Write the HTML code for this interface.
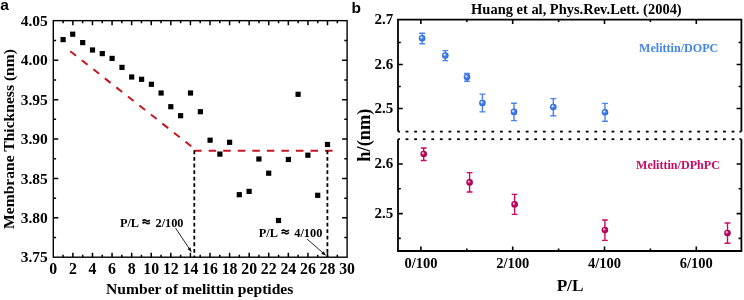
<!DOCTYPE html><html><head><meta charset="utf-8"><style>html,body{margin:0;padding:0;background:#fff;}svg{display:block;will-change:transform}text{font-family:"Liberation Serif",serif;font-weight:bold;fill:#000}</style></head><body><svg width="744" height="300" viewBox="0 0 744 300"><defs><radialGradient id="gb" cx="0.5" cy="0.5" r="0.5" fx="0.33" fy="0.33"><stop offset="0" stop-color="#ffffff"/><stop offset="0.18" stop-color="#cfe0ff"/><stop offset="0.45" stop-color="#4684ee"/><stop offset="1" stop-color="#2a62d8"/></radialGradient><radialGradient id="gp" cx="0.5" cy="0.5" r="0.5" fx="0.33" fy="0.33"><stop offset="0" stop-color="#ffffff"/><stop offset="0.18" stop-color="#f5b0d0"/><stop offset="0.45" stop-color="#c80a66"/><stop offset="1" stop-color="#a00050"/></radialGradient></defs><text x="0.3" y="9.6" style="font-family:'Liberation Sans',sans-serif;font-size:15.5px">a</text><text x="351.6" y="12.6" style="font-family:'Liberation Sans',sans-serif;font-size:15.5px">b</text><rect x="53.3" y="20.65" width="293.8" height="236.54999999999998" fill="none" stroke="#000" stroke-width="1.4"/><path d="M63.09 257.2v-2.5M63.09 20.65v2.5M72.89 257.2v-4.5M72.89 20.65v4.5M82.68 257.2v-2.5M82.68 20.65v2.5M92.47 257.2v-4.5M92.47 20.65v4.5M102.27 257.2v-2.5M102.27 20.65v2.5M112.06 257.2v-4.5M112.06 20.65v4.5M121.85 257.2v-2.5M121.85 20.65v2.5M131.65 257.2v-4.5M131.65 20.65v4.5M141.44 257.2v-2.5M141.44 20.65v2.5M151.23 257.2v-4.5M151.23 20.65v4.5M161.03 257.2v-2.5M161.03 20.65v2.5M170.82 257.2v-4.5M170.82 20.65v4.5M180.61 257.2v-2.5M180.61 20.65v2.5M190.41 257.2v-4.5M190.41 20.65v4.5M200.20 257.2v-2.5M200.20 20.65v2.5M209.99 257.2v-4.5M209.99 20.65v4.5M219.79 257.2v-2.5M219.79 20.65v2.5M229.58 257.2v-4.5M229.58 20.65v4.5M239.37 257.2v-2.5M239.37 20.65v2.5M249.17 257.2v-4.5M249.17 20.65v4.5M258.96 257.2v-2.5M258.96 20.65v2.5M268.75 257.2v-4.5M268.75 20.65v4.5M278.55 257.2v-2.5M278.55 20.65v2.5M288.34 257.2v-4.5M288.34 20.65v4.5M298.13 257.2v-2.5M298.13 20.65v2.5M307.93 257.2v-4.5M307.93 20.65v4.5M317.72 257.2v-2.5M317.72 20.65v2.5M327.51 257.2v-4.5M327.51 20.65v4.5M337.31 257.2v-2.5M337.31 20.65v2.5M53.3 40.59h2.8M347.1 40.59h-2.8M53.3 60.28h5M347.1 60.28h-5M53.3 79.98h2.8M347.1 79.98h-2.8M53.3 99.67h5M347.1 99.67h-5M53.3 119.36h2.8M347.1 119.36h-2.8M53.3 139.05h5M347.1 139.05h-5M53.3 158.74h2.8M347.1 158.74h-2.8M53.3 178.43h5M347.1 178.43h-5M53.3 198.13h2.8M347.1 198.13h-2.8M53.3 217.82h5M347.1 217.82h-5M53.3 237.51h2.8M347.1 237.51h-2.8" stroke="#000" stroke-width="1.5" fill="none"/><text x="53.30" y="274.2" font-size="15.8" text-anchor="middle">0</text><text x="72.89" y="274.2" font-size="15.8" text-anchor="middle">2</text><text x="92.47" y="274.2" font-size="15.8" text-anchor="middle">4</text><text x="112.06" y="274.2" font-size="15.8" text-anchor="middle">6</text><text x="131.65" y="274.2" font-size="15.8" text-anchor="middle">8</text><text x="151.23" y="274.2" font-size="15.8" text-anchor="middle">10</text><text x="170.82" y="274.2" font-size="15.8" text-anchor="middle">12</text><text x="190.41" y="274.2" font-size="15.8" text-anchor="middle">14</text><text x="209.99" y="274.2" font-size="15.8" text-anchor="middle">16</text><text x="229.58" y="274.2" font-size="15.8" text-anchor="middle">18</text><text x="249.17" y="274.2" font-size="15.8" text-anchor="middle">20</text><text x="268.75" y="274.2" font-size="15.8" text-anchor="middle">22</text><text x="288.34" y="274.2" font-size="15.8" text-anchor="middle">24</text><text x="307.93" y="274.2" font-size="15.8" text-anchor="middle">26</text><text x="327.51" y="274.2" font-size="15.8" text-anchor="middle">28</text><text x="347.10" y="274.2" font-size="15.8" text-anchor="middle">30</text><text x="47.8" y="26.10" font-size="15.5" text-anchor="end">4.05</text><text x="47.8" y="65.48" font-size="15.5" text-anchor="end">4.00</text><text x="47.8" y="104.87" font-size="15.5" text-anchor="end">3.95</text><text x="47.8" y="144.25" font-size="15.5" text-anchor="end">3.90</text><text x="47.8" y="183.63" font-size="15.5" text-anchor="end">3.85</text><text x="47.8" y="223.02" font-size="15.5" text-anchor="end">3.80</text><text x="47.8" y="262.40" font-size="15.5" text-anchor="end">3.75</text><text x="199.7" y="294.2" font-size="15.6" text-anchor="middle">Number of melittin peptides</text><text transform="translate(14.2,139) rotate(-90)" font-size="15.6" text-anchor="middle">Membrane Thickness (nm)</text><path d="M70.3 51.2L191.3 146.3" stroke="#c8141e" stroke-width="2" stroke-dasharray="7.3 7.35" fill="none"/><path d="M194.1 150.7H333" stroke="#c8141e" stroke-width="1.9" stroke-dasharray="7.5 7.05" fill="none"/><path d="M194.3 150.5V257M327.4 150.5V257" stroke="#000" stroke-width="1.8" stroke-dasharray="3.8 2.76" fill="none"/><rect x="60.50" y="37.00" width="5.2" height="5.2" fill="#000"/><rect x="70.10" y="31.60" width="5.2" height="5.2" fill="#000"/><rect x="80.10" y="40.00" width="5.2" height="5.2" fill="#000"/><rect x="89.90" y="47.40" width="5.2" height="5.2" fill="#000"/><rect x="99.70" y="51.00" width="5.2" height="5.2" fill="#000"/><rect x="109.50" y="55.80" width="5.2" height="5.2" fill="#000"/><rect x="119.40" y="64.80" width="5.2" height="5.2" fill="#000"/><rect x="129.10" y="74.40" width="5.2" height="5.2" fill="#000"/><rect x="139.00" y="76.70" width="5.2" height="5.2" fill="#000"/><rect x="148.80" y="81.70" width="5.2" height="5.2" fill="#000"/><rect x="158.50" y="90.40" width="5.2" height="5.2" fill="#000"/><rect x="168.20" y="104.10" width="5.2" height="5.2" fill="#000"/><rect x="178.00" y="113.10" width="5.2" height="5.2" fill="#000"/><rect x="187.90" y="90.40" width="5.2" height="5.2" fill="#000"/><rect x="197.80" y="109.10" width="5.2" height="5.2" fill="#000"/><rect x="207.50" y="137.60" width="5.2" height="5.2" fill="#000"/><rect x="217.30" y="151.50" width="5.2" height="5.2" fill="#000"/><rect x="227.00" y="139.70" width="5.2" height="5.2" fill="#000"/><rect x="236.70" y="192.10" width="5.2" height="5.2" fill="#000"/><rect x="246.50" y="188.80" width="5.2" height="5.2" fill="#000"/><rect x="256.30" y="156.40" width="5.2" height="5.2" fill="#000"/><rect x="266.10" y="170.60" width="5.2" height="5.2" fill="#000"/><rect x="275.90" y="217.90" width="5.2" height="5.2" fill="#000"/><rect x="285.80" y="156.90" width="5.2" height="5.2" fill="#000"/><rect x="295.50" y="91.70" width="5.2" height="5.2" fill="#000"/><rect x="305.30" y="152.60" width="5.2" height="5.2" fill="#000"/><rect x="315.10" y="192.70" width="5.2" height="5.2" fill="#000"/><rect x="324.90" y="141.90" width="5.2" height="5.2" fill="#000"/><text x="119.9" y="226.8" font-size="12.3">P/L</text><text x="155.5" y="226.8" font-size="12.3">2/100</text><text x="258.8" y="236.9" font-size="12.3">P/L</text><text x="294.3" y="236.9" font-size="12.3">4/100</text><path d="M142.5 220.9q1.8 -1.9 3.65 -0.4t3.65 -0.6M142.5 223.4q1.8 -1.9 3.65 -0.4t3.65 -0.6" stroke="#000" stroke-width="1.55" fill="none"/><path d="M281.5 231.0q1.8 -1.9 3.65 -0.4t3.65 -0.6M281.5 233.5q1.8 -1.9 3.65 -0.4t3.65 -0.6" stroke="#000" stroke-width="1.55" fill="none"/><path d="M175.6 228.2L189.20 248.56" stroke="#000" stroke-width="0.85" fill="none"/><path d="M191.7 252.3L187.51 249.09L190.34 247.20Z" fill="#000"/><path d="M306.9 238.9L322.81 252.75" stroke="#000" stroke-width="0.85" fill="none"/><path d="M326.2 255.7L321.31 253.70L323.54 251.13Z" fill="#000"/><text x="576.4" y="13.6" font-size="14.47" text-anchor="middle">Huang et al, Phys.Rev.Lett. (2004)</text><path d="M398.0 131.6V19.6H741.4V131.6M398.0 131.6h2M741.4 131.6h-2" stroke="#000" stroke-width="1.8" fill="none"/><path d="M398.0 139.2V251.0H741.4V139.2M398.0 139.2h2M741.4 139.2h-2" stroke="#000" stroke-width="1.8" fill="none"/><g fill="#000"><rect x="405.60" y="130.70" width="2.8" height="1.8"/><rect x="405.60" y="138.30" width="2.8" height="1.8"/><rect x="414.18" y="130.70" width="2.8" height="1.8"/><rect x="414.18" y="138.30" width="2.8" height="1.8"/><rect x="422.76" y="130.70" width="2.8" height="1.8"/><rect x="422.76" y="138.30" width="2.8" height="1.8"/><rect x="431.34" y="130.70" width="2.8" height="1.8"/><rect x="431.34" y="138.30" width="2.8" height="1.8"/><rect x="439.92" y="130.70" width="2.8" height="1.8"/><rect x="439.92" y="138.30" width="2.8" height="1.8"/><rect x="448.50" y="130.70" width="2.8" height="1.8"/><rect x="448.50" y="138.30" width="2.8" height="1.8"/><rect x="457.08" y="130.70" width="2.8" height="1.8"/><rect x="457.08" y="138.30" width="2.8" height="1.8"/><rect x="465.66" y="130.70" width="2.8" height="1.8"/><rect x="465.66" y="138.30" width="2.8" height="1.8"/><rect x="474.24" y="130.70" width="2.8" height="1.8"/><rect x="474.24" y="138.30" width="2.8" height="1.8"/><rect x="482.82" y="130.70" width="2.8" height="1.8"/><rect x="482.82" y="138.30" width="2.8" height="1.8"/><rect x="491.40" y="130.70" width="2.8" height="1.8"/><rect x="491.40" y="138.30" width="2.8" height="1.8"/><rect x="499.98" y="130.70" width="2.8" height="1.8"/><rect x="499.98" y="138.30" width="2.8" height="1.8"/><rect x="508.56" y="130.70" width="2.8" height="1.8"/><rect x="508.56" y="138.30" width="2.8" height="1.8"/><rect x="517.14" y="130.70" width="2.8" height="1.8"/><rect x="517.14" y="138.30" width="2.8" height="1.8"/><rect x="525.72" y="130.70" width="2.8" height="1.8"/><rect x="525.72" y="138.30" width="2.8" height="1.8"/><rect x="534.30" y="130.70" width="2.8" height="1.8"/><rect x="534.30" y="138.30" width="2.8" height="1.8"/><rect x="542.88" y="130.70" width="2.8" height="1.8"/><rect x="542.88" y="138.30" width="2.8" height="1.8"/><rect x="551.46" y="130.70" width="2.8" height="1.8"/><rect x="551.46" y="138.30" width="2.8" height="1.8"/><rect x="560.04" y="130.70" width="2.8" height="1.8"/><rect x="560.04" y="138.30" width="2.8" height="1.8"/><rect x="568.62" y="130.70" width="2.8" height="1.8"/><rect x="568.62" y="138.30" width="2.8" height="1.8"/><rect x="577.20" y="130.70" width="2.8" height="1.8"/><rect x="577.20" y="138.30" width="2.8" height="1.8"/><rect x="585.78" y="130.70" width="2.8" height="1.8"/><rect x="585.78" y="138.30" width="2.8" height="1.8"/><rect x="594.36" y="130.70" width="2.8" height="1.8"/><rect x="594.36" y="138.30" width="2.8" height="1.8"/><rect x="602.94" y="130.70" width="2.8" height="1.8"/><rect x="602.94" y="138.30" width="2.8" height="1.8"/><rect x="611.52" y="130.70" width="2.8" height="1.8"/><rect x="611.52" y="138.30" width="2.8" height="1.8"/><rect x="620.10" y="130.70" width="2.8" height="1.8"/><rect x="620.10" y="138.30" width="2.8" height="1.8"/><rect x="628.68" y="130.70" width="2.8" height="1.8"/><rect x="628.68" y="138.30" width="2.8" height="1.8"/><rect x="637.26" y="130.70" width="2.8" height="1.8"/><rect x="637.26" y="138.30" width="2.8" height="1.8"/><rect x="645.84" y="130.70" width="2.8" height="1.8"/><rect x="645.84" y="138.30" width="2.8" height="1.8"/><rect x="654.42" y="130.70" width="2.8" height="1.8"/><rect x="654.42" y="138.30" width="2.8" height="1.8"/><rect x="663.00" y="130.70" width="2.8" height="1.8"/><rect x="663.00" y="138.30" width="2.8" height="1.8"/><rect x="671.58" y="130.70" width="2.8" height="1.8"/><rect x="671.58" y="138.30" width="2.8" height="1.8"/><rect x="680.16" y="130.70" width="2.8" height="1.8"/><rect x="680.16" y="138.30" width="2.8" height="1.8"/><rect x="688.74" y="130.70" width="2.8" height="1.8"/><rect x="688.74" y="138.30" width="2.8" height="1.8"/><rect x="697.32" y="130.70" width="2.8" height="1.8"/><rect x="697.32" y="138.30" width="2.8" height="1.8"/><rect x="705.90" y="130.70" width="2.8" height="1.8"/><rect x="705.90" y="138.30" width="2.8" height="1.8"/><rect x="714.48" y="130.70" width="2.8" height="1.8"/><rect x="714.48" y="138.30" width="2.8" height="1.8"/><rect x="723.06" y="130.70" width="2.8" height="1.8"/><rect x="723.06" y="138.30" width="2.8" height="1.8"/><rect x="731.64" y="130.70" width="2.8" height="1.8"/><rect x="731.64" y="138.30" width="2.8" height="1.8"/></g><path d="M420.90 251.0v-4.5M420.90 19.6v4.5M466.80 251.0v-2.5M466.80 19.6v2.5M512.70 251.0v-4.5M512.70 19.6v4.5M558.60 251.0v-2.5M558.60 19.6v2.5M604.50 251.0v-4.5M604.50 19.6v4.5M650.40 251.0v-2.5M650.40 19.6v2.5M696.30 251.0v-4.5M696.30 19.6v4.5M398.0 42.50h2.8M741.4 42.50h-2.8M398.0 64.50h4.8M741.4 64.50h-4.8M398.0 86.50h2.8M741.4 86.50h-2.8M398.0 108.50h4.8M741.4 108.50h-4.8M398.0 164.00h4.8M741.4 164.00h-4.8M398.0 188.80h2.8M741.4 188.80h-2.8M398.0 213.60h4.8M741.4 213.60h-4.8M398.0 238.40h2.8M741.4 238.40h-2.8" stroke="#000" stroke-width="1.6" fill="none"/><text x="420.90" y="267.6" font-size="14.5" text-anchor="middle">0/100</text><text x="512.70" y="267.6" font-size="14.5" text-anchor="middle">2/100</text><text x="604.50" y="267.6" font-size="14.5" text-anchor="middle">4/100</text><text x="696.30" y="267.6" font-size="14.5" text-anchor="middle">6/100</text><text x="393.2" y="23.90" font-size="15" text-anchor="end">2.7</text><text x="393.2" y="68.80" font-size="15" text-anchor="end">2.6</text><text x="393.2" y="112.80" font-size="15" text-anchor="end">2.5</text><text x="393.2" y="168.30" font-size="15" text-anchor="end">2.6</text><text x="393.2" y="217.90" font-size="15" text-anchor="end">2.5</text><text x="570" y="290.6" font-size="17.2" text-anchor="middle">P/L</text><text transform="translate(370.4,135.1) rotate(-90)" font-size="18.4" text-anchor="middle">h/(nm)</text><text x="639" y="52.1" font-size="12.12" style="fill:#4684ee">Melittin/DOPC</text><text x="636" y="168.6" font-size="12.08" style="fill:#c80a66">Melittin/DPhPC</text><path d="M422.10 33.30V43.80M419.20 33.30h5.8M419.20 43.80h5.8" stroke="#4684ee" stroke-width="1.4" fill="none"/><circle cx="422.10" cy="38.30" r="3.3" fill="url(#gb)"/><path d="M445.30 50.60V60.60M442.40 50.60h5.8M442.40 60.60h5.8" stroke="#4684ee" stroke-width="1.4" fill="none"/><circle cx="445.30" cy="55.50" r="3.3" fill="url(#gb)"/><path d="M467.00 73.40V81.30M464.10 73.40h5.8M464.10 81.30h5.8" stroke="#4684ee" stroke-width="1.4" fill="none"/><circle cx="467.00" cy="77.10" r="3.3" fill="url(#gb)"/><path d="M482.40 94.10V111.90M479.50 94.10h5.8M479.50 111.90h5.8" stroke="#4684ee" stroke-width="1.4" fill="none"/><circle cx="482.40" cy="103.00" r="3.3" fill="url(#gb)"/><path d="M514.00 103.30V120.60M511.10 103.30h5.8M511.10 120.60h5.8" stroke="#4684ee" stroke-width="1.4" fill="none"/><circle cx="514.00" cy="111.90" r="3.3" fill="url(#gb)"/><path d="M553.30 98.60V115.70M550.40 98.60h5.8M550.40 115.70h5.8" stroke="#4684ee" stroke-width="1.4" fill="none"/><circle cx="553.30" cy="107.00" r="3.3" fill="url(#gb)"/><path d="M605.00 103.40V121.30M602.10 103.40h5.8M602.10 121.30h5.8" stroke="#4684ee" stroke-width="1.4" fill="none"/><circle cx="605.00" cy="112.30" r="3.3" fill="url(#gb)"/><path d="M423.70 148.00V160.50M420.80 148.00h5.8M420.80 160.50h5.8" stroke="#c80a66" stroke-width="1.4" fill="none"/><circle cx="423.70" cy="154.00" r="3.3" fill="url(#gp)"/><path d="M469.60 172.60V192.00M466.70 172.60h5.8M466.70 192.00h5.8" stroke="#c80a66" stroke-width="1.4" fill="none"/><circle cx="469.60" cy="182.40" r="3.3" fill="url(#gp)"/><path d="M514.60 194.40V214.40M511.70 194.40h5.8M511.70 214.40h5.8" stroke="#c80a66" stroke-width="1.4" fill="none"/><circle cx="514.60" cy="204.40" r="3.3" fill="url(#gp)"/><path d="M604.90 220.00V240.40M602.00 220.00h5.8M602.00 240.40h5.8" stroke="#c80a66" stroke-width="1.4" fill="none"/><circle cx="604.90" cy="230.00" r="3.3" fill="url(#gp)"/><path d="M727.50 223.00V243.30M724.60 223.00h5.8M724.60 243.30h5.8" stroke="#c80a66" stroke-width="1.4" fill="none"/><circle cx="727.50" cy="233.00" r="3.3" fill="url(#gp)"/></svg></body></html>
